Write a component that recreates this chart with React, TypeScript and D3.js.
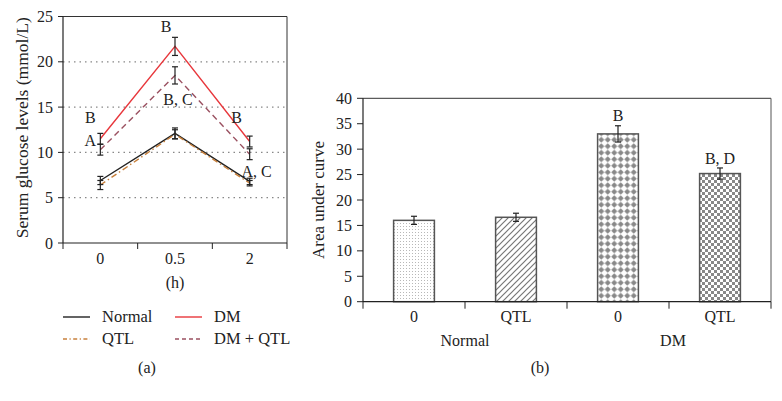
import React from "react";
import * as d3 from "d3";

// ---- Panel (a) data ----
const times = ["0", "0.5", "2"];
const normalVals = [6.9, 12.1, 6.8];
const normalErr = [0.45, 0.6, 0.35];
const qtlVals = [6.4, 12.0, 6.6];
const qtlErr = [0.5, 0.5, 0.3];
const dmVals = [11.5, 21.7, 11.2];
const dmErr = [0.6, 1.0, 0.6];
const dmQtlVals = [10.3, 18.5, 9.8];
const dmQtlErr = [0.6, 0.95, 0.6];
const yTicksA = [0, 5, 10, 15, 20, 25];
const gridA = [5, 10, 15, 20];

// ---- Panel (b) data ----
const barCats = ["N0", "NQ", "D0", "DQ"];
const barLabels = ["0", "QTL", "0", "QTL"];
const barVals = [16.0, 16.6, 33.0, 25.2];
const barErr = [0.8, 0.8, 1.6, 1.1];
const barSig = ["", "", "B", "B, D"];
const groupLabels = ["Normal", "DM"];
const yTicksB = [0, 5, 10, 15, 20, 25, 30, 35, 40];

const FONT = "'Liberation Serif', 'DejaVu Serif', serif";
const FS = 16;
const FT = 17;

export default function App() {
  // panel a scales
  const xA = d3.scaleBand<string>().domain(times).range([63, 287]);
  const yA = d3.scaleLinear().domain([0, 25]).range([243, 16.5]);
  const cx = (t: string) => (xA(t) as number) + xA.bandwidth() / 2;
  const line = d3
    .line<number>()
    .x((_, i) => cx(times[i]))
    .y((d) => yA(d));

  const seriesA = [
    { name: "Normal", vals: normalVals, err: normalErr, color: "#222222", dash: "", ldash: "" },
    { name: "QTL", vals: qtlVals, err: qtlErr, color: "#c8803c", dash: "6,3,1.5,3", ldash: "4,2.5,1.2,2.5" },
    { name: "DM", vals: dmVals, err: dmErr, color: "#e8373c", dash: "", ldash: "" },
    { name: "DM + QTL", vals: dmQtlVals, err: dmQtlErr, color: "#9a5060", dash: "6,4", ldash: "4,3" },
  ];

  // panel b scales
  const xB = d3.scaleBand<string>().domain(barCats).range([363, 771]).paddingInner(0.6).paddingOuter(0.3);
  const yB = d3.scaleLinear().domain([0, 40]).range([301.7, 98.3]);
  const fills = ["url(#pDots)", "url(#pHatch)", "url(#pDiamond)", "url(#pCheck)"];

  const labelsA = [
    { t: "B", x: cx("0") - 10, y: yA(13.9) },
    { t: "A", x: cx("0") - 10, y: yA(11.3) },
    { t: "B", x: cx("0.5") - 9, y: yA(23.9) },
    { t: "B, C", x: cx("0.5") + 3, y: yA(15.9) },
    { t: "B", x: cx("2") - 13, y: yA(13.9) },
    { t: "A, C", x: cx("2") + 7, y: yA(7.9) },
  ];

  const cap = 3;

  return (
    <svg width={782} height={401} style={{ display: "block", position: "absolute", left: 0, top: 0 }} fontFamily={FONT}>
      <defs>
        <pattern id="pDots" width={3} height={3} patternUnits="userSpaceOnUse">
          <rect width={3} height={3} fill="#fff" />
          <rect x={1} y={1} width={1} height={1} fill="#b8b8b8" />
        </pattern>
        <pattern id="pHatch" width={6} height={6} patternUnits="userSpaceOnUse">
          <rect width={6} height={6} fill="#fff" />
          <path d="M-1,7 L7,-1 M-1,1 L1,-1 M5,7 L7,5" stroke="#777" strokeWidth={1.2} />
        </pattern>
        <pattern id="pDiamond" width={6.5} height={6.5} patternUnits="userSpaceOnUse">
          <rect width={6.5} height={6.5} fill="#fff" />
          <path d="M3.25,0.2 L6.3,3.25 L3.25,6.3 L0.2,3.25 Z" fill="#888" />
        </pattern>
        <pattern id="pCheck" width={6} height={6} patternUnits="userSpaceOnUse">
          <rect width={6} height={6} fill="#fff" />
          <rect x={0} y={0} width={3} height={3} fill="#888" />
          <rect x={3} y={3} width={3} height={3} fill="#888" />
        </pattern>
      </defs>

      {/* ---------- Panel (a) ---------- */}
      {gridA.map((g) => (
        <line key={g} x1={63} x2={287} y1={yA(g)} y2={yA(g)} stroke="#888" strokeDasharray="1.5,4" strokeWidth={1.2} />
      ))}
      <line x1={63} x2={287} y1={yA(25)} y2={yA(25)} stroke="#333" strokeWidth={1} />
      <line x1={287} x2={287} y1={yA(25)} y2={yA(0)} stroke="#333" strokeWidth={1} />
      <line x1={63} x2={63} y1={yA(25)} y2={yA(0)} stroke="#222" strokeWidth={1.2} />
      <line x1={63} x2={287} y1={yA(0)} y2={yA(0)} stroke="#222" strokeWidth={1.2} />
      {yTicksA.map((t) => (
        <g key={t}>
          <line x1={58} x2={63} y1={yA(t)} y2={yA(t)} stroke="#222" />
          <text x={53} y={yA(t)} dy="0.35em" textAnchor="end" fontSize={FS} fill="#222">
            {t}
          </text>
        </g>
      ))}
      {[0, 1, 2, 3].map((i) => {
        const x = 63 + i * xA.bandwidth();
        return <line key={i} x1={x} x2={x} y1={yA(0)} y2={yA(0) + 6} stroke="#222" />;
      })}
      {times.map((t) => (
        <text key={t} x={cx(t)} y={264} textAnchor="middle" fontSize={FS} fill="#222">
          {t}
        </text>
      ))}
      <text x={175} y={288} textAnchor="middle" fontSize={FS} fill="#222">
        (h)
      </text>
      <text transform={`translate(22,${(yA(0) + yA(25)) / 2 - 2}) rotate(-90)`} textAnchor="middle" dy="0.35em" fontSize={FT + 0.5} fill="#222">
        Serum glucose levels (mmol/L)
      </text>

      {seriesA.map((s) => (
        <g key={s.name}>
          <path d={line(s.vals) as string} fill="none" stroke={s.color} strokeWidth={1.4} strokeDasharray={s.dash} />
        </g>
      ))}
      {seriesA.map((s) => (
        <g key={s.name + "e"}>
          {s.vals.map((v, i) => {
            const x = cx(times[i]);
            return (
              <g key={i} stroke="#222" strokeWidth={1.2}>
                <line x1={x} x2={x} y1={yA(v - s.err[i])} y2={yA(v + s.err[i])} />
                <line x1={x - cap} x2={x + cap} y1={yA(v - s.err[i])} y2={yA(v - s.err[i])} />
                <line x1={x - cap} x2={x + cap} y1={yA(v + s.err[i])} y2={yA(v + s.err[i])} />
              </g>
            );
          })}
        </g>
      ))}
      {labelsA.map((l, i) => (
        <text key={i} x={l.x} y={l.y} dy="0.35em" textAnchor="middle" fontSize={FS} fill="#222">
          {l.t}
        </text>
      ))}

      {/* legend */}
      {seriesA.map((s, i) => {
        const lx = i < 2 ? 63 : 175;
        const ly = 317 + (i % 2) * 22;
        return (
          <g key={s.name + "l"}>
            <line x1={lx} x2={lx + 27} y1={ly} y2={ly} stroke={s.color} strokeWidth={1.4} strokeDasharray={s.ldash} />
            <text x={lx + 39} y={ly} dy="0.33em" fontSize={FS + 0.5} fill="#222">
              {s.name}
            </text>
          </g>
        );
      })}
      <text x={147} y={373} textAnchor="middle" fontSize={FS} fill="#222">
        (a)
      </text>

      {/* ---------- Panel (b) ---------- */}
      <line x1={363} x2={771} y1={yB(40)} y2={yB(40)} stroke="#333" strokeWidth={1} />
      <line x1={771} x2={771} y1={yB(40)} y2={yB(0)} stroke="#555" strokeWidth={1} />
      <line x1={363} x2={363} y1={yB(40)} y2={yB(0)} stroke="#222" strokeWidth={1.2} />
      {yTicksB.map((t) => (
        <g key={t}>
          <line x1={357} x2={363} y1={yB(t)} y2={yB(t)} stroke="#222" />
          <text x={352} y={yB(t)} dy="0.35em" textAnchor="end" fontSize={FS} fill="#222">
            {t}
          </text>
        </g>
      ))}
      <text transform={`translate(318,200) rotate(-90)`} textAnchor="middle" dy="0.35em" fontSize={FT} fill="#222">
        Area under curve
      </text>
      {barCats.map((c, i) => {
        const x = xB(c) as number;
        const w = xB.bandwidth();
        const v = barVals[i];
        const mx = x + w / 2;
        return (
          <g key={c}>
            <rect x={x} y={yB(v)} width={w} height={yB(0) - yB(v)} fill={fills[i]} stroke="#555" strokeWidth={1.5} />
            <g stroke="#222" strokeWidth={1.2}>
              <line x1={mx} x2={mx} y1={yB(v - barErr[i])} y2={yB(v + barErr[i])} />
              <line x1={mx - cap} x2={mx + cap} y1={yB(v - barErr[i])} y2={yB(v - barErr[i])} />
              <line x1={mx - cap} x2={mx + cap} y1={yB(v + barErr[i])} y2={yB(v + barErr[i])} />
            </g>
            {barSig[i] && (
              <text x={mx} y={yB(v + barErr[i]) - 10} dy="0.35em" textAnchor="middle" fontSize={FS} fill="#222">
                {barSig[i]}
              </text>
            )}
            <text x={mx} y={322} textAnchor="middle" fontSize={FS} fill="#222">
              {barLabels[i]}
            </text>
          </g>
        );
      })}
      <line x1={363} x2={771} y1={yB(0)} y2={yB(0)} stroke="#222" strokeWidth={1.2} />
      {[0, 1, 2, 3, 4].map((i) => {
        const x = 363 + i * xB.step();
        return <line key={i} x1={x} x2={x} y1={yB(0)} y2={yB(0) + 7} stroke="#222" />;
      })}
      {groupLabels.map((g, i) => (
        <text key={g} x={363 + (2 * i + 1) * xB.step() + (i === 1 ? 4 : 0)} y={346} textAnchor="middle" fontSize={FS} fill="#222">
          {g}
        </text>
      ))}
      <text x={540} y={373} textAnchor="middle" fontSize={FS} fill="#222">
        (b)
      </text>
    </svg>
  );
}
